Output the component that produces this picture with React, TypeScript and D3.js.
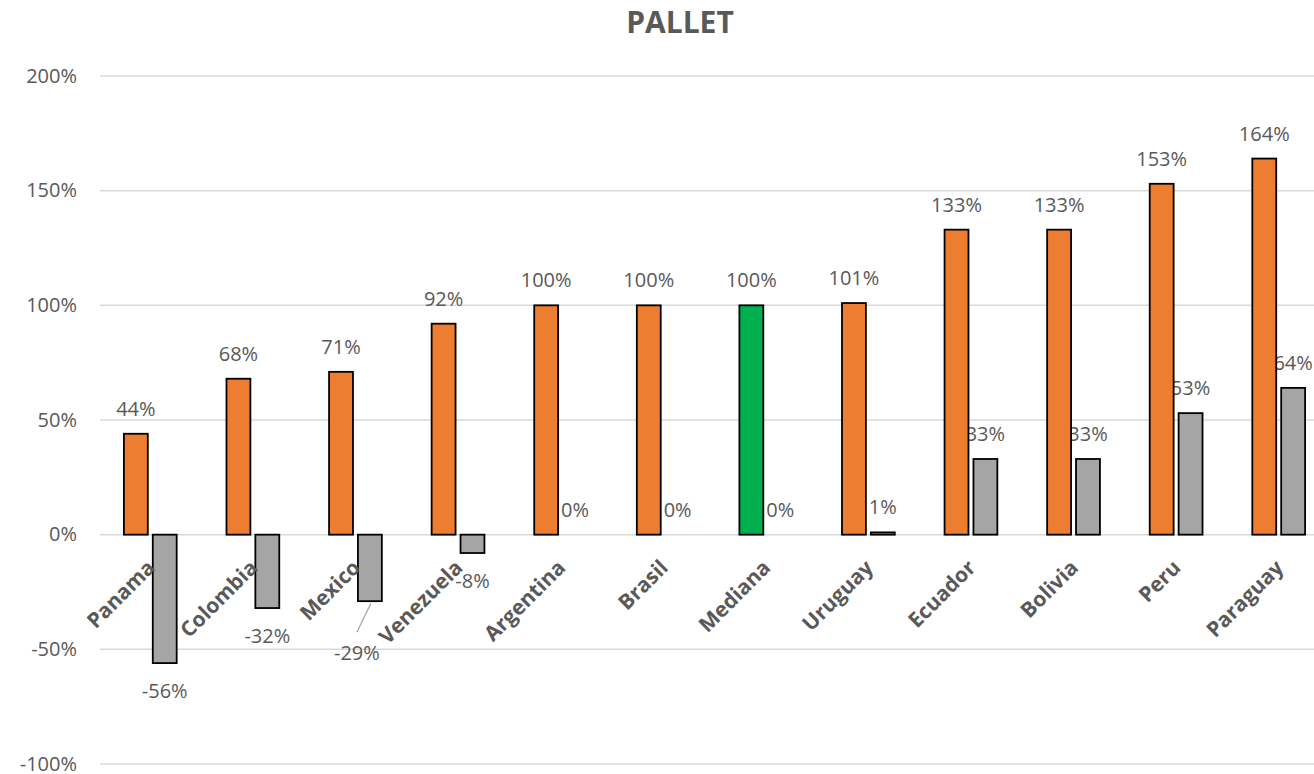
import React from "react";
import * as d3 from "d3";

const title = "PALLET";
const categories = ["Panama", "Colombia", "Mexico", "Venezuela", "Argentina", "Brasil", "Mediana", "Uruguay", "Ecuador", "Bolivia", "Peru", "Paraguay"];
const seriesA = [44, 68, 71, 92, 100, 100, 100, 101, 133, 133, 153, 164];
const seriesB = [-56, -32, -29, -8, 0, 0, 0, 1, 33, 33, 53, 64];
const highlight = "Mediana";
const yTicks = [-100, -50, 0, 50, 100, 150, 200];

const W = 1314;
const H = 774;
const FONT = "'Open Sans', 'Liberation Sans', sans-serif";
const TXT = "#595959";
const ORANGE = "#ED7D31";
const GRAY = "#A5A5A5";
const GREEN = "#00B050";

export default function App() {
  const y = d3.scaleLinear().domain([-100, 200]).range([764, 76]);
  const x = d3.scaleBand<string>().domain(categories).range([99, 1330]).paddingInner(0).paddingOuter(0);
  const x1 = d3.scaleBand<string>().domain(["a", "b"]).range([0, x.bandwidth()]).paddingInner(0.172).paddingOuter(0.862);
  const bw = x1.bandwidth();
  const fmt = (v: number) => `${v}%`;

  return (
    <svg width={W} height={H} style={{ position: "absolute", left: 0, top: 0, background: "#fff" }} fontFamily={FONT}>
      <rect width={W} height={H} fill="#fff" />
      <text x={680} y={33} textAnchor="middle" fontSize={30} fontWeight="bold" fill={TXT}>{title}</text>
      {yTicks.map((t) => (
        <g key={t}>
          <line x1={100} x2={W} y1={y(t)} y2={y(t)} stroke="#D9D9D9" strokeWidth={1.5} />
          <text x={77} y={y(t) + 6.5} textAnchor="end" fontSize={20} fill={TXT}>{fmt(t)}</text>
        </g>
      ))}
      {/* series B labels (behind bars) */}
      {categories.map((c, i) => {
        const v = seriesB[i];
        const cx = (x(c) as number) + (x1("b") as number) + bw / 2;
        if (v >= 0) {
          return <text key={c} x={cx} y={y(v) - 18} textAnchor="middle" fontSize={20} fill={TXT}>{fmt(v)}</text>;
        }
        if (c === "Mexico") {
          return (
            <g key={c}>
              <line x1={cx + 1} y1={y(v) + 2} x2={cx - 13} y2={y(v) + 31} stroke="#A6A6A6" strokeWidth={1.3} />
              <text x={cx - 13} y={y(v) + 59} textAnchor="middle" fontSize={20} fill={TXT}>{fmt(v)}</text>
            </g>
          );
        }
        return <text key={c} x={cx} y={y(v) + 35} textAnchor="middle" fontSize={20} fill={TXT}>{fmt(v)}</text>;
      })}
      {categories.map((c, i) => {
        const xa = (x(c) as number) + (x1("a") as number);
        const xb = (x(c) as number) + (x1("b") as number);
        const a = seriesA[i];
        const b = seriesB[i];
        return (
          <g key={c}>
            <rect x={xa} y={y(Math.max(0, a))} width={bw} height={Math.abs(y(a) - y(0))} fill={c === highlight ? GREEN : ORANGE} stroke="#000" strokeWidth={1.8} />
            {b !== 0 && (
              <rect x={xb} y={y(Math.max(0, b))} width={bw} height={Math.abs(y(b) - y(0))} fill={GRAY} stroke="#000" strokeWidth={1.8} />
            )}
          </g>
        );
      })}
      {categories.map((c, i) => {
        const cx = (x(c) as number) + (x1("a") as number) + bw / 2;
        return <text key={c} x={cx} y={y(seriesA[i]) - 18} textAnchor="middle" fontSize={20} fill={TXT}>{fmt(seriesA[i])}</text>;
      })}
      {categories.map((c) => {
        const cx = (x(c) as number) + x.bandwidth() / 2;
        return (
          <text key={c} transform={`translate(${cx + 6},${569}) rotate(-45)`} textAnchor="end" fontSize={21} fontWeight="bold" fill={TXT}>{c}</text>
        );
      })}
    </svg>
  );
}
